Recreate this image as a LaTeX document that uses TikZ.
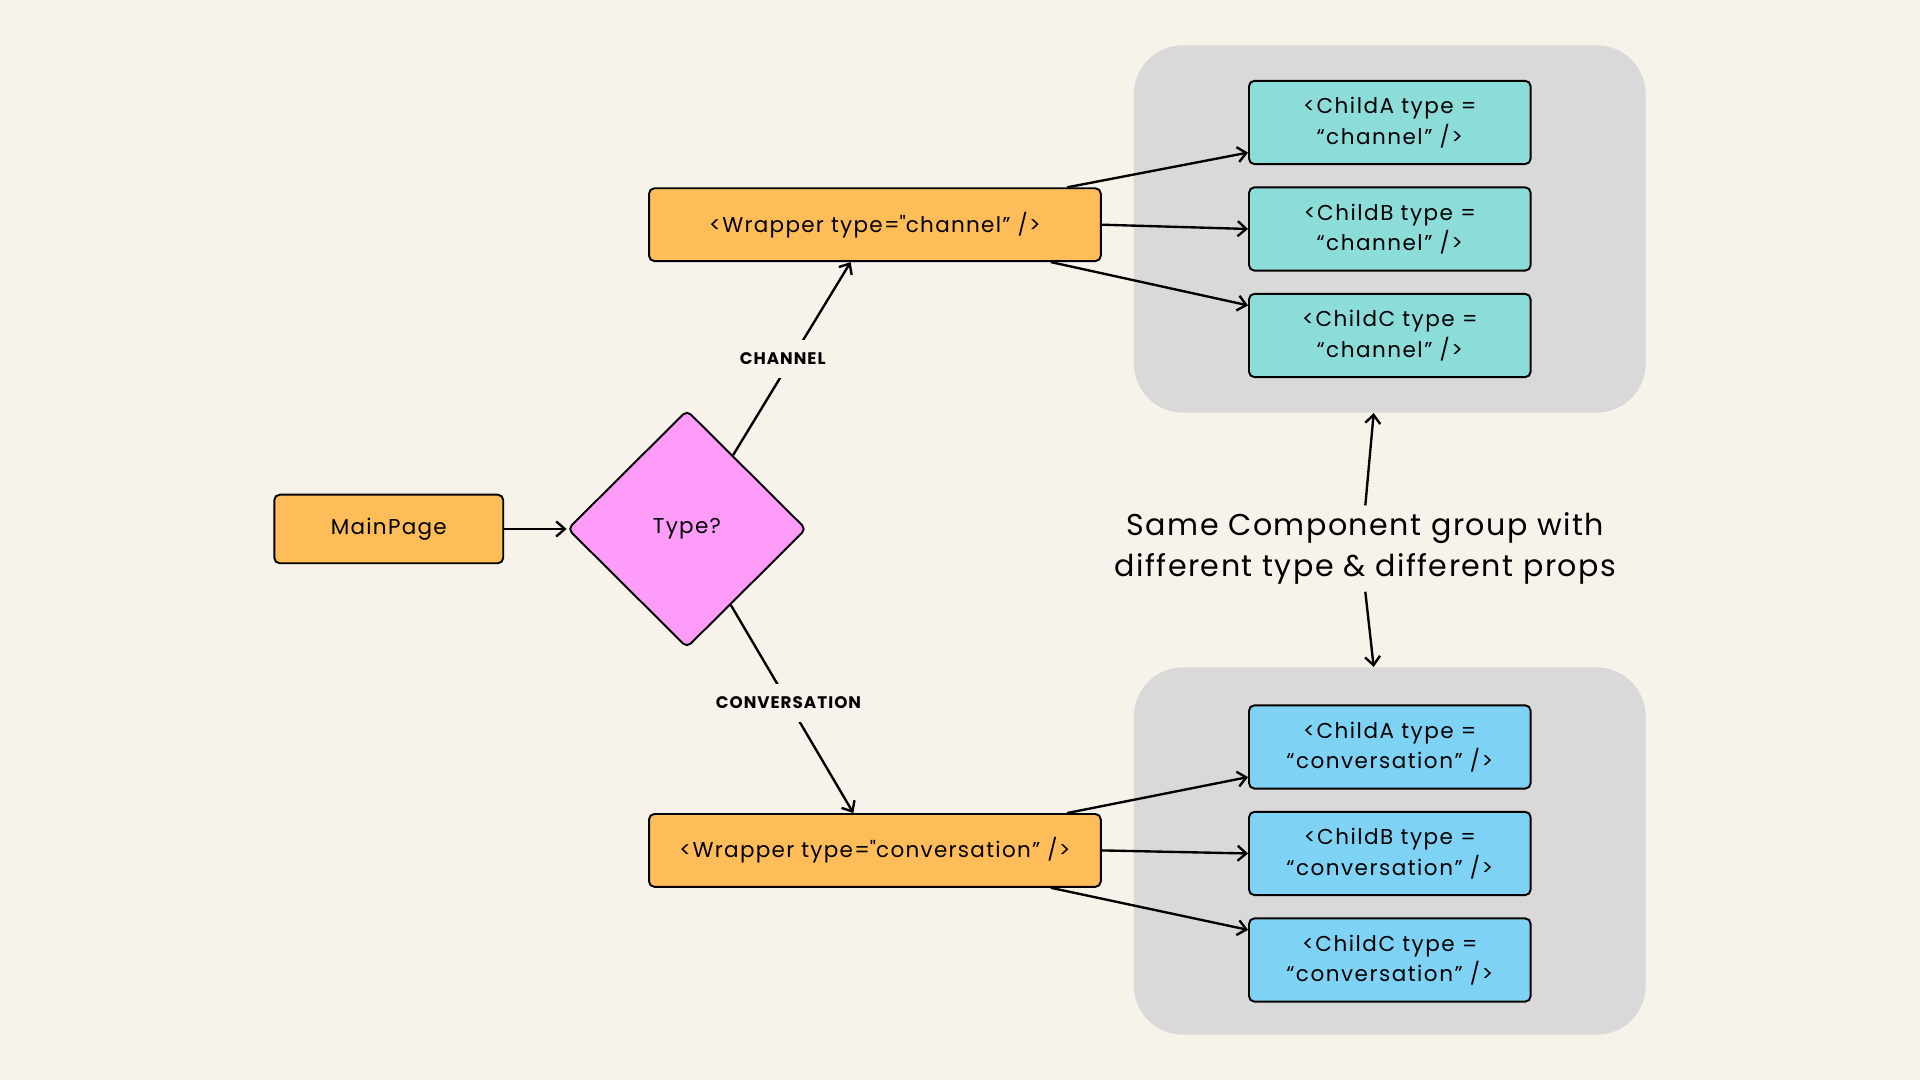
\documentclass[tikz,border=0pt]{standalone}
\usepackage{xcolor}
\usepackage{fontspec}
\setmainfont{Poppins}[LetterSpace=6]
\newfontfamily\plainq{Poppins}[LetterSpace=6]
\newcommand{\sq}{{\plainq"}}
\usetikzlibrary{shapes.geometric, arrows.meta}

\definecolor{bgc}{HTML}{F7F3EB}
\definecolor{grp}{HTML}{D9D9D9}
\definecolor{wrap}{HTML}{FFBD59}
\definecolor{dec}{HTML}{FF9CFA}
\definecolor{chan}{HTML}{8CDCDA}
\definecolor{conv}{HTML}{7ED3F5}

\begin{document}
\begin{tikzpicture}[x=0.02cm, y=-0.02cm,
  box/.style={draw, line width=0.9pt, rounded corners=2.5pt, align=center,
    font=\fontsize{10}{14}\selectfont},
  wrapbox/.style={box, fill=wrap, minimum width=7.38cm, minimum height=1.19cm},
  child/.style={box, minimum width=4.6cm, minimum height=1.36cm,
    font=\fontsize{10}{14.2}\selectfont\addfontfeature{LetterSpace=7}},
  panel/.style={fill=grp, rounded corners=0.8cm, minimum width=8.36cm, minimum height=6cm},
  lbl/.style={fill=bgc, inner xsep=1pt, inner ysep=6pt, font=\fontsize{7.8}{9}\bfseries},
  arr/.style={-{Straight Barb[length=4pt, width=7pt]}, line width=1.1pt}]
  \fill[bgc] (0,0) rectangle (1568,882);

  % Draw the two grey groups
  \node[panel] (grpA) at (1135,187) {};
  \node[panel] (grpB) at (1135,695) {};

  % Start node and the decision
  \node[box, fill=wrap, minimum width=3.74cm, minimum height=1.12cm] (main) at (317.5,432) {MainPage};
  \node[draw, line width=0.9pt, fill=dec, diamond, rounded corners=2.5pt,
    minimum width=3.9cm, minimum height=3.88cm, font=\fontsize{10}{14}\selectfont] (type) at (561,432) {Type?};

  % Draw the two wrappers
  \node[wrapbox] (wrapA) at (714.5,183.5) {<Wrapper type=\sq channel” />};
  \node[wrapbox] (wrapB) at (714.5,694.5) {<Wrapper type=\sq conversation” />};

  % Children of each wrapper
  \node[child, fill=chan] (chA) at (1135,100) {<ChildA type =\\“channel” />};
  \node[child, fill=chan] (chB) at (1135,187) {<ChildB type =\\“channel” />};
  \node[child, fill=chan] (chC) at (1135,274) {<ChildC type =\\“channel” />};
  \node[child, fill=conv] (cvA) at (1135,610) {<ChildA type =\\“conversation” />};
  \node[child, fill=conv] (cvB) at (1135,697) {<ChildB type =\\“conversation” />};
  \node[child, fill=conv] (cvC) at (1135,784) {<ChildC type =\\“conversation” />};

  % Label the groups
  \node[align=center, font=\fontsize{14}{18.8}\selectfont\addfontfeature{LetterSpace=5}] (note) at (1115,448)
    {Same Component group with\\different type \& different props};

  % Draw the connectors
  \draw[arr] (main) -- (type);
  \draw[arr] (type.58) -- node[lbl, pos=0.5, xshift=-0.15cm] {CHANNEL} (wrapA.237);
  \draw[arr] (type.-60) -- node[lbl, pos=0.47] {CONVERSATION} (wrapB.120);
  \draw[arr] (wrapA.11) -- (chA.192);
  \draw[arr] (wrapA.east) -- (chB.west);
  \draw[arr] (wrapA.-12) -- (chC.168);
  \draw[arr] (wrapB.11) -- (cvA.192);
  \draw[arr] (wrapB.east) -- (cvB.west);
  \draw[arr] (wrapB.-12) -- (cvC.168);
  \draw[arr] (note.north) -- (grpA.265);
  \draw[arr] (note.south) -- (grpB.95);
\end{tikzpicture}
\end{document}
